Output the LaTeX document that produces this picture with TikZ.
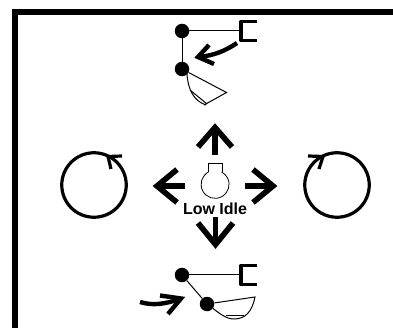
\documentclass[tikz,border=0pt]{standalone}
\usepackage{fontspec}
\setmainfont{Liberation Sans}
\tikzset{
  pivot/.style={circle,fill=black,inner sep=0pt,minimum size=14.5pt},
  thinline/.style={line width=1pt},
  hookline/.style={line width=3.4pt,line join=round},
  bigarrow/.style={line width=5.6pt,line join=miter},
  curvearrow/.style={line width=4.4pt,line join=miter},
  ring/.style={circle,draw,line width=3.2pt,inner sep=0pt,minimum size=64.5pt},
  frameline/.style={line width=6pt,line join=miter}
}
\begin{document}
\begin{tikzpicture}[x=1pt,y=-1pt]
\useasboundingbox (0,0) rectangle (393,328);
% frame
\draw[frameline] (15,328) -- (15,12) -- (393,12);
% top linkage
\node[pivot] (a1) at (182,31) {};
\node[pivot] (a2) at (182,69) {};
\coordinate (ah) at (240,31);
\draw[thinline] (a1) -- (a2);
\draw[thinline] (a1) -- (ah);
\draw[hookline] (257,21.5) -- (241,21.5) -- (241,40.5) -- (257,40.5);
\draw[curvearrow] (237,43) .. controls (225,51) and (215,55) .. (200,57);
\draw[curvearrow] (209,45) -- (198,57) -- (214,64);
\draw[thinline] (a2) -- (226.5,92.5) -- (204,105);
\draw[thinline] (187,74) .. controls (188,90) and (194,101) .. (206,105);
\draw[thinline] (190,90) -- (207,104);
% centre arrows
\draw[bigarrow] (215,155) -- (215,128);
\draw[bigarrow] (198,147) -- (215,127.5) -- (232,147);
\draw[bigarrow] (185,186) -- (158,186);
\draw[bigarrow] (177,169.5) -- (157,186) -- (177,202.5);
\draw[bigarrow] (245,186) -- (272,186);
\draw[bigarrow] (253,169.5) -- (273,186) -- (253,202.5);
\draw[bigarrow] (215.5,217) -- (215.5,244);
\draw[bigarrow] (198,223) -- (215.5,244.5) -- (233,223);
% key
\draw[line width=.8pt] (208.5,172) -- (208.5,163) -- (222,163) -- (222,172);
\draw[line width=.8pt] (208.5,172) arc[start angle=-118,end angle=-422,radius=14];
% label
\node[font=\bfseries\fontsize{16pt}{18pt}\selectfont,inner sep=0pt,fill=white,inner xsep=1pt] (lbl) at (215,208.5) {Low Idle};
\draw[line width=5.6pt] (215.5,217) -- (215.5,222);
% rings
\node[ring] (r1) at (94,185) {};
\draw[line width=3.2pt] (122,156) -- (108,156.5) -- (111,169);
\node[ring] (r2) at (337,185) {};
\draw[line width=3.2pt] (308,156) -- (323,156.5) -- (319,169);
% bottom linkage
\node[pivot] (b1) at (182,275) {};
\node[pivot] (b2) at (207,304) {};
\coordinate (bh) at (240,275);
\draw[thinline] (b1) -- (b2);
\draw[thinline] (b1) -- (bh);
\draw[hookline] (257,265.5) -- (241,265.5) -- (241,284.5) -- (257,284.5);
\draw[thinline] (b2) -- (255,297) .. controls (252,312) and (245,319) .. (234,319) .. controls (226,319) and (219,313) .. (b2);
\draw[thinline] (226,315) -- (244,315);
\draw[curvearrow] (140,302) .. controls (153,306) and (165,304) .. (180,299);
\draw[curvearrow] (160,295.5) -- (181,298.5) -- (168,314);
\end{tikzpicture}
\end{document}
